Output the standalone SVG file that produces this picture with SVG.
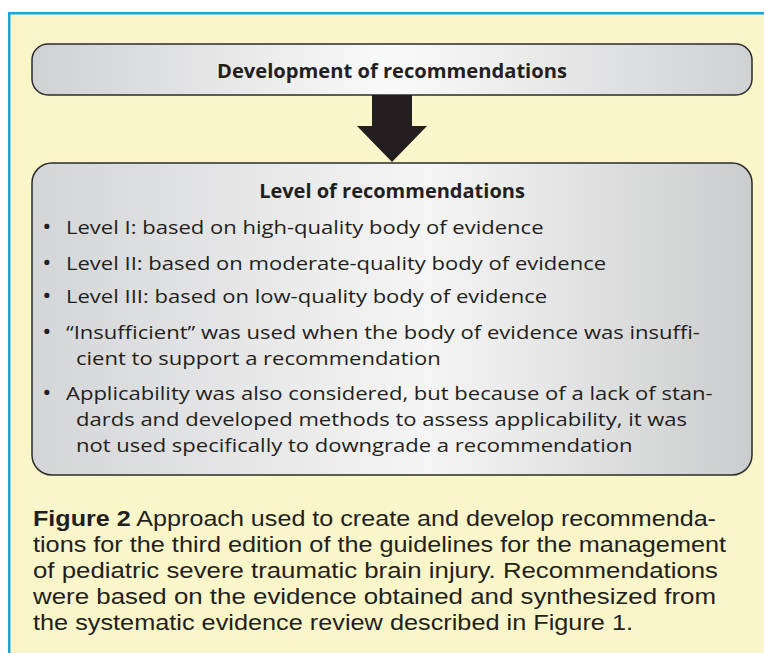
<svg xmlns="http://www.w3.org/2000/svg" width="764" height="653" viewBox="0 0 764 653">
<defs>
<linearGradient id="g1" x1="0" y1="0" x2="1" y2="0">
<stop offset="0" stop-color="#d0d1d3"/>
<stop offset="0.5" stop-color="#fafafa"/>
<stop offset="1" stop-color="#d0d1d3"/>
</linearGradient>
<linearGradient id="g2" x1="0" y1="0" x2="1" y2="0">
<stop offset="0" stop-color="#d4d5d7"/>
<stop offset="0.55" stop-color="#f5f5f5"/>
<stop offset="1" stop-color="#cbcccd"/>
</linearGradient>
<style>
.box{stroke:#2b2b2b;stroke-width:1.5}
.t{font-family:"Open Sans","Noto Sans","Liberation Sans",sans-serif;fill:#231f20}
.b{font-weight:bold;font-size:20px}
.li{font-size:19px}
.bu{font-size:21px}
.cap{font-family:"Liberation Sans",Arial,sans-serif;font-size:22px;fill:#231f20}
</style>
</defs>
<rect x="0" y="0" width="764" height="653" fill="#ffffff"/>
<rect x="8" y="12" width="760" height="650" fill="#faf6c9"/>
<path d="M9.2,653 V13.2 H764" fill="none" stroke="#1ba3da" stroke-width="2.5"/>

<g id="node-development">
<rect class="box" x="32" y="44" width="720" height="51" rx="16" fill="url(#g1)"/>
<text class="t b" x="392" y="78" text-anchor="middle" textLength="350" lengthAdjust="spacingAndGlyphs">Development of recommendations</text>
</g>

<g id="connectors">
<polygon points="372,95 412,95 412,126 427,126 392,162 357,126 372,126" fill="#231f20"/>
</g>

<g id="node-level">
<rect class="box" x="32" y="163" width="720" height="312" rx="20" fill="url(#g2)"/>
<text class="t b" x="392" y="198" text-anchor="middle">Level of recommendations</text>
<g class="t li" transform="scale(1.16,1)">
<text class="bu" x="36.5" y="234">•</text><text x="56.9" y="234">Level I: based on high-quality body of evidence</text>
<text class="bu" x="36.5" y="270">•</text><text x="56.9" y="270">Level II: based on moderate-quality body of evidence</text>
<text class="bu" x="36.5" y="303">•</text><text x="56.9" y="303">Level III: based on low-quality body of evidence</text>
<text class="bu" x="36.5" y="339">•</text><text x="56.9" y="339">“Insufficient” was used when the body of evidence was insuffi-</text>
<text x="65.5" y="365">cient to support a recommendation</text>
<text class="bu" x="36.5" y="400">•</text><text x="56.9" y="400">Applicability was also considered, but because of a lack of stan-</text>
<text x="65.5" y="426">dards and developed methods to assess applicability, it was</text>
<text x="65.5" y="452">not used specifically to downgrade a recommendation</text>
</g>
</g>

<g id="caption">
<text class="cap" x="33" y="526" textLength="683" lengthAdjust="spacingAndGlyphs"><tspan font-weight="bold">Figure 2</tspan> Approach used to create and develop recommenda-</text>
<text class="cap" x="33" y="552" textLength="693" lengthAdjust="spacingAndGlyphs">tions for the third edition of the guidelines for the management</text>
<text class="cap" x="33" y="578" textLength="685" lengthAdjust="spacingAndGlyphs">of pediatric severe traumatic brain injury. Recommendations</text>
<text class="cap" x="33" y="604" textLength="683" lengthAdjust="spacingAndGlyphs">were based on the evidence obtained and synthesized from</text>
<text class="cap" x="33" y="630" textLength="600" lengthAdjust="spacingAndGlyphs">the systematic evidence review described in Figure 1.</text>
</g>
</svg>
